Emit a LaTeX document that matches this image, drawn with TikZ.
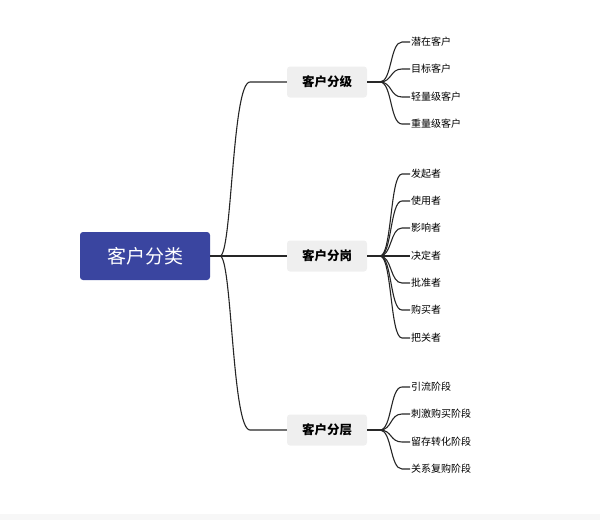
\documentclass[tikz,border=0pt]{standalone}
\usepackage{fontspec}
\newfontfamily\cjk{Noto Sans CJK SC}
\usetikzlibrary{positioning}
\definecolor{rootblue}{HTML}{3A45A0}
\definecolor{midgray}{HTML}{EFEFEF}
\begin{document}
\begin{tikzpicture}[x=1pt,y=1pt,
    root/.style={fill=rootblue,rounded corners=3pt,minimum width=130pt,minimum height=48pt,text=white,font=\cjk\fontsize{19}{19}\selectfont},
    mid/.style={fill=midgray,rounded corners=3pt,minimum width=80pt,minimum height=31pt,font=\cjk\bfseries\fontsize{12.5}{12.5}\selectfont},
    leaf/.style={anchor=west,inner sep=1pt,font=\cjk\fontsize{10}{10}\selectfont},
    branch/.style={line width=1.1pt,black!85}]
\useasboundingbox (0,0) rectangle (600,-520);
\fill[black!3] (0,-514) rectangle (600,-520);
\node[root] (kehu) at (145,-256) {客户分类};
\node[mid] (fenji) at (327,-82) {客户分级};
\node[mid] (fengang) at (327,-256) {客户分岗};
\node[mid] (fenceng) at (327,-430) {客户分层};
\coordinate (rootfork) at (220,-256);
\draw[branch] (kehu.east) -- (rootfork);
\foreach \m in {fenji,fengang,fenceng}
  \draw[branch] (rootfork) .. controls (232,-256) and (232,0|-\m) .. (250,0|-\m) -- (\m.west);
% leaves
\foreach \name/\y [count=\i] in {潜在客户/42,目标客户/69,轻量级客户/97,重量级客户/124}{
  \node[leaf] (ji\i) at (410,-\y) {\name};
  \coordinate (jifork) at (380,-82);
  \draw[branch] (fenji.east) -- (jifork) .. controls (392,-82) and (390,-\y) .. (402,-\y) -- (ji\i.west);
}
\foreach \name/\y [count=\i] in {发起者/174,使用者/201,影响者/228,决定者/256,批准者/283,购买者/310,把关者/338}{
  \node[leaf] (gang\i) at (410,-\y) {\name};
  \coordinate (gangfork) at (380,-256);
  \draw[branch] (fengang.east) -- (gangfork) .. controls (392,-256) and (390,-\y) .. (402,-\y) -- (gang\i.west);
}
\foreach \name/\y [count=\i] in {引流阶段/387,刺激购买阶段/414,留存转化阶段/442,关系复购阶段/469}{
  \node[leaf] (ceng\i) at (410,-\y) {\name};
  \coordinate (cengfork) at (380,-430);
  \draw[branch] (fenceng.east) -- (cengfork) .. controls (392,-430) and (390,-\y) .. (402,-\y) -- (ceng\i.west);
}
\end{tikzpicture}
\end{document}
